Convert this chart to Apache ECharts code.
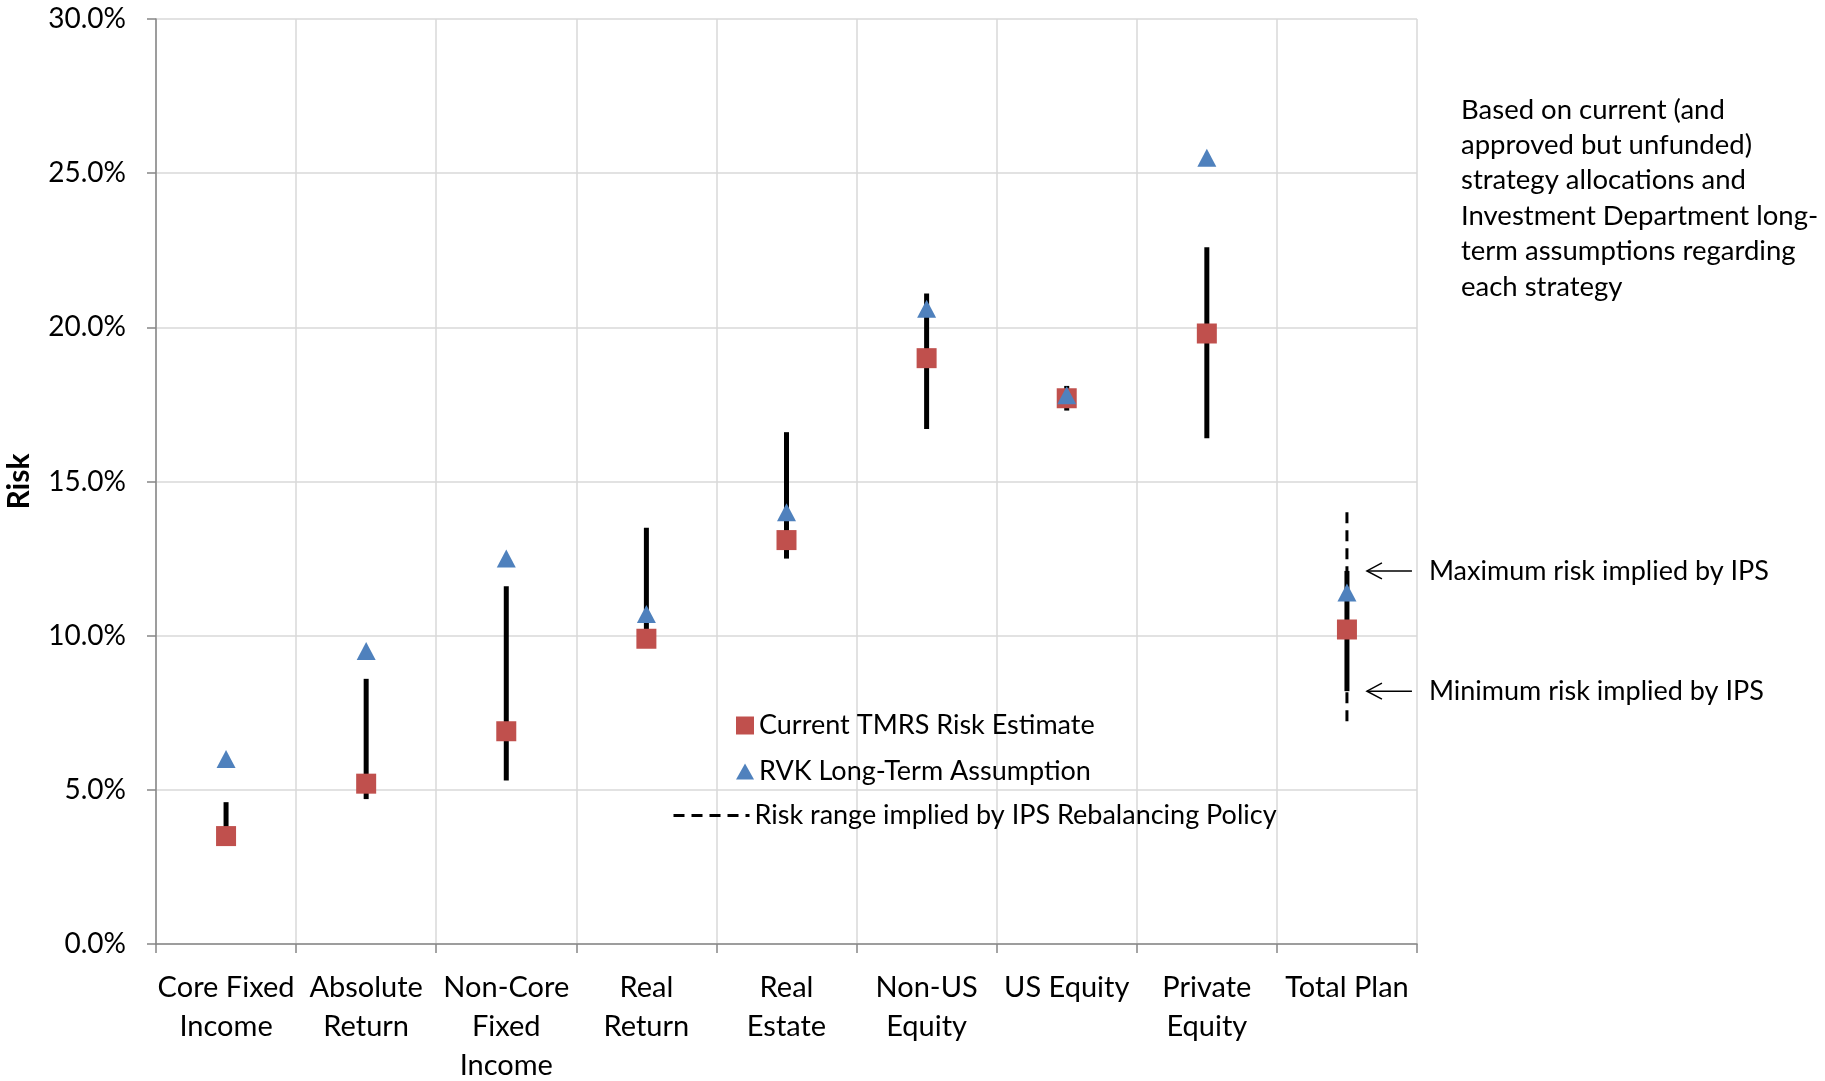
<!DOCTYPE html>
<html>
<head>
<meta charset="utf-8">
<title>Risk by strategy</title>
<script src="https://cdn.jsdelivr.net/npm/echarts@6/dist/echarts.min.js"></script>
<style>
  html, body { margin: 0; padding: 0; background: #fff; }
  #chart { width: 1825px; height: 1081px; }
</style>
</head>
<body>
<div id="chart"></div>
<script>
// data (risk in %)
const categories = ['Core Fixed\nIncome', 'Absolute\nReturn', 'Non-Core\nFixed\nIncome', 'Real\nReturn', 'Real\nEstate', 'Non-US\nEquity', 'US Equity', 'Private\nEquity', 'Total Plan']
const currentEstimate = [3.5, 5.2, 6.9, 9.9, 13.1, 19.0, 17.7, 19.8, 10.2]
const rvkAssumption = [6.0, 9.5, 12.5, 10.7, 14.0, 20.6, 17.8, 25.5, 11.4]
const rangeLow = [3.5, 4.7, 5.3, 9.9, 12.5, 16.7, 17.3, 16.4, 8.2]
const rangeHigh = [4.6, 8.6, 11.6, 13.5, 16.6, 21.1, 18.1, 22.6, 12.1]
const totalPlanPolicy = [7.1, 14.0]
const noteLines = ['Based on current (and', 'approved but unfunded)', 'strategy allocations and', 'Investment Department long-', 'term assumptions regarding', 'each strategy']

const FONT = 'Lato, "Open Sans", sans-serif'
const totalIdx = categories.length - 1

const chart = echarts.init(document.getElementById('chart'))

const legendText = { fontFamily: FONT, fontSize: 27, color: '#000' }

const option = {
  animation: false,
  grid: { left: 156, right: 408, top: 19, bottom: 137, outerBoundsMode: 'none' },
  legend: [
    {
      data: ['Current TMRS Risk Estimate'],
      left: 731, top: 707,
      itemWidth: 18, itemHeight: 18,
      textStyle: legendText
    },
    {
      data: ['RVK Long-Term Assumption'],
      left: 731, top: 753,
      itemWidth: 18, itemHeight: 16,
      textStyle: legendText
    },
    {
      data: ['Risk range implied by IPS Rebalancing Policy'],
      left: 667, top: 797,
      itemWidth: 76, itemHeight: 12,
      lineStyle: { type: [11, 7], width: 3, color: '#000' },
      itemStyle: { color: 'rgba(0,0,0,0)', borderWidth: 0 },
      textStyle: legendText
    }
  ],
  xAxis: {
    type: 'category',
    data: categories,
    axisLine: { lineStyle: { color: '#868686', width: 1.5 } },
    axisTick: { show: true, length: 9, lineStyle: { color: '#868686', width: 1.5 } },
    splitLine: { show: true, lineStyle: { color: '#d9d9d9', width: 1.5 } },
    axisLabel: {
      interval: 0, margin: 24, color: '#000',
      fontFamily: FONT, fontSize: 29, lineHeight: 39
    }
  },
  yAxis: {
    type: 'value',
    min: 0, max: 30, interval: 5,
    name: 'Risk',
    nameLocation: 'middle',
    nameRotate: 90,
    nameGap: 122,
    nameTextStyle: { fontFamily: FONT, fontSize: 30, fontWeight: 'bold', color: '#000' },
    axisLine: { show: true, lineStyle: { color: '#868686', width: 1.5 } },
    axisTick: { show: true, length: 9, lineStyle: { color: '#868686', width: 1.5 } },
    splitLine: { lineStyle: { color: '#d9d9d9', width: 1.5 } },
    axisLabel: {
      margin: 30, color: '#000', fontFamily: FONT, fontSize: 28,
      formatter: v => v.toFixed(1) + '%'
    }
  },
  series: [
    {
      name: 'range',
      type: 'custom',
      z: 2,
      data: categories.map((c, i) => [i, rangeLow[i], rangeHigh[i]]),
      encode: { x: 0, y: [1, 2] },
      renderItem: (params, api) => {
        const lo = api.coord([api.value(0), api.value(1)])
        const hi = api.coord([api.value(0), api.value(2)])
        return {
          type: 'line',
          shape: { x1: lo[0], y1: lo[1], x2: hi[0], y2: hi[1] },
          style: { stroke: '#000', lineWidth: 5 }
        }
      }
    },
    {
      name: 'Risk range implied by IPS Rebalancing Policy',
      type: 'line',
      z: 1,
      symbol: 'none',
      data: [[totalIdx, totalPlanPolicy[1]], [totalIdx, totalPlanPolicy[0]]],
      lineStyle: { type: [11, 7], width: 3, color: '#000' },
      itemStyle: { color: '#000' }
    },
    {
      name: 'Current TMRS Risk Estimate',
      type: 'scatter',
      z: 3,
      symbol: 'rect',
      symbolSize: 20,
      data: currentEstimate.map((v, i) => [i, v]),
      itemStyle: { color: '#c0504d', opacity: 1 }
    },
    {
      name: 'RVK Long-Term Assumption',
      type: 'scatter',
      z: 4,
      symbol: 'triangle',
      symbolSize: [19, 18],
      data: rvkAssumption.map((v, i) => [i, v]),
      itemStyle: { color: '#4f81bd', opacity: 1 }
    }
  ]
}

chart.setOption(option)

// annotations pinned to the Total Plan range ends
const maxPt = chart.convertToPixel({ seriesIndex: 0 }, [totalIdx, rangeHigh[totalIdx]])
const minPt = chart.convertToPixel({ seriesIndex: 0 }, [totalIdx, rangeLow[totalIdx]])

function arrow(pt, label) {
  const x0 = pt[0] + 20, x1 = pt[0] + 65, y = pt[1]
  return [
    { type: 'line', shape: { x1: x0, y1: y, x2: x1, y2: y }, style: { stroke: '#000', lineWidth: 1.5 } },
    { type: 'polyline', shape: { points: [[x0 + 15, y - 8], [x0, y], [x0 + 15, y + 8]] }, style: { stroke: '#000', lineWidth: 1.5, fill: null } },
    { type: 'text', x: pt[0] + 82, y: y, style: { text: label, font: '27px ' + FONT, fill: '#000', verticalAlign: 'middle' } }
  ]
}

chart.setOption({
  graphic: [
    ...arrow(maxPt, 'Maximum risk implied by IPS'),
    ...arrow(minPt, 'Minimum risk implied by IPS'),
    {
      type: 'text', x: 1461, y: 92,
      style: { text: noteLines.join('\n'), font: '27.5px ' + FONT, lineHeight: 35.4, fill: '#000', verticalAlign: 'top' }
    }
  ]
})
</script>
</body>
</html>
